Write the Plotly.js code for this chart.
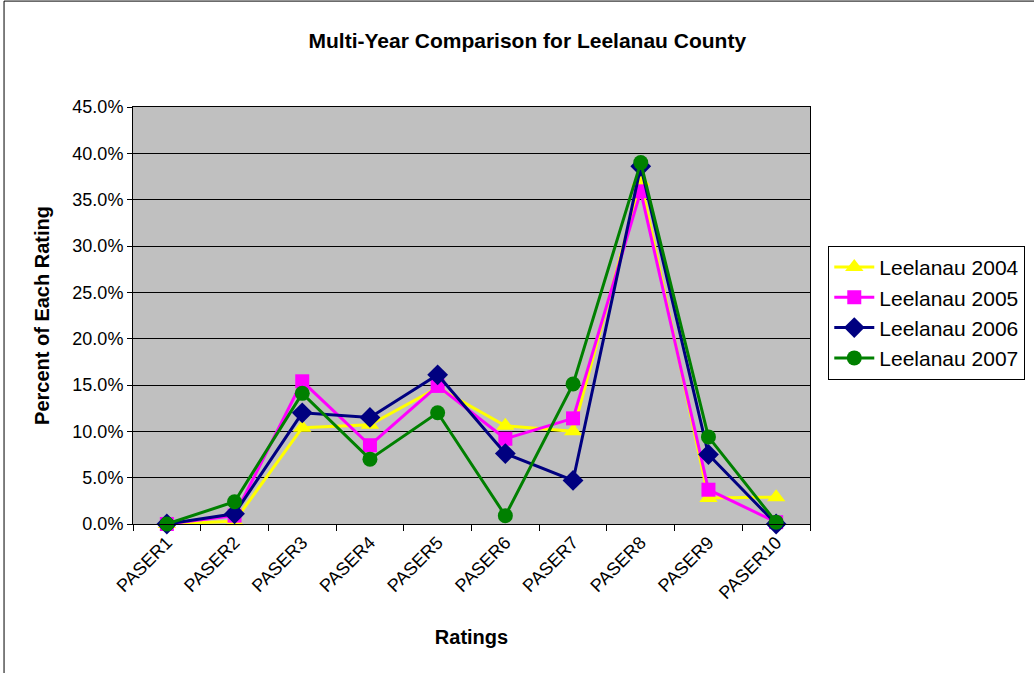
<!DOCTYPE html>
<html>
<head>
<meta charset="utf-8">
<script src="https://cdn.plot.ly/plotly-3.0.1.min.js"></script>
<style>
html,body{margin:0;padding:0;background:#fff;}
#chart{width:1034px;height:673px;}
</style>
</head>
<body>
<div id="chart"></div>
<script>
const categories = ["PASER1","PASER2","PASER3","PASER4","PASER5","PASER6","PASER7","PASER8","PASER9","PASER10"];
const leelanau2004 = [0.0, 0.3, 10.4, 10.7, 14.7, 10.6, 10.0, 37.0, 2.8, 2.9];
const leelanau2005 = [0.0, 0.9, 15.4, 8.5, 14.9, 9.2, 11.4, 35.9, 3.7, 0.2];
const leelanau2006 = [0.0, 1.1, 12.0, 11.5, 16.1, 7.6, 4.7, 38.6, 7.5, 0.0];
const leelanau2007 = [0.0, 2.4, 14.1, 7.0, 12.0, 0.9, 15.1, 39.0, 9.4, 0.2];
const yTicks = [0,5,10,15,20,25,30,35,40,45];

const seriesDefs = [
  {name:"Leelanau 2004", y:leelanau2004, color:"#FFFF00", symbol:"triangle-up", size:16},
  {name:"Leelanau 2005", y:leelanau2005, color:"#FF00FF", symbol:"square", size:14},
  {name:"Leelanau 2006", y:leelanau2006, color:"#000080", symbol:"diamond", size:16},
  {name:"Leelanau 2007", y:leelanau2007, color:"#008000", symbol:"circle", size:15}
];

const traces = seriesDefs.map(s => ({
  type:"scatter", mode:"lines+markers", name:s.name,
  x:categories, y:s.y,
  line:{color:s.color, width:3},
  marker:{color:s.color, symbol:s.symbol, size:s.size, line:{width:0}},
  cliponaxis:false
}));

const layout = {
  width:1034, height:673,
  margin:{l:133, r:224, t:107, b:149, autoexpand:false},
  paper_bgcolor:"#FFFFFF",
  plot_bgcolor:"#C0C0C0",
  font:{family:"Liberation Sans, Arial, sans-serif", color:"#000"},
  title:{text:"<b>Multi-Year Comparison for Leelanau County</b>", font:{size:21, family:"Liberation Sans, Arial, sans-serif"}, x:0.51, xanchor:"center", y:0.94, yanchor:"middle"},
  xaxis:{
    type:"category", tickangle:-45, tickfont:{size:18},
    ticks:"outside", ticklen:6, tickcolor:"#000", tickson:"boundaries",
    showline:true, linecolor:"#000", linewidth:1, mirror:true,
    showgrid:false, range:[-0.5, 9.5],
    title:{text:"<b>Ratings</b>", font:{size:20}, standoff:27}
  },
  yaxis:{
    range:[0,45], tickvals:yTicks, ticktext:yTicks.map(v=>v.toFixed(1)+"%"),
    tickfont:{size:18}, ticks:"outside", ticklen:5, tickcolor:"#000",
    showline:true, linecolor:"#000", linewidth:1, mirror:true,
    showgrid:true, gridcolor:"#000", gridwidth:1, zeroline:false,
    title:{text:"<b>Percent of Each Rating</b>", font:{size:20}, standoff:17}
  },
  legend:{
    x:1.027, xanchor:"left", y:0.667, yanchor:"top",
    bgcolor:"#FFFFFF", bordercolor:"#000", borderwidth:1,
    font:{size:21}, tracegroupgap:0, itemwidth:40
  },
  shapes:[
    {type:"rect", xref:"paper", yref:"paper", x0:-0.1905, x1:1.4, y0:-0.4, y1:1.254, line:{color:"#000", width:1}, fillcolor:"rgba(0,0,0,0)", layer:"below"}
  ],
  showlegend:true
};

Plotly.newPlot("chart", traces, layout, {displayModeBar:false, staticPlot:true});
</script>
</body>
</html>
